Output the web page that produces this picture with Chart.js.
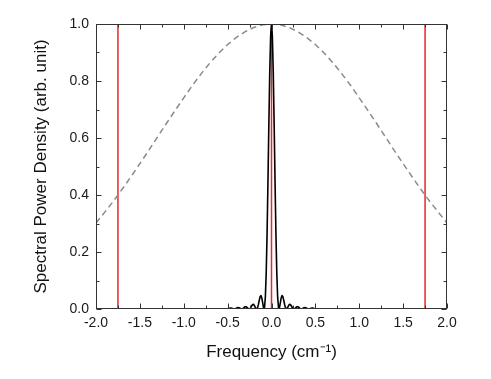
<!DOCTYPE html>
<html>
<head>
<meta charset="utf-8">
<script src="https://cdn.jsdelivr.net/npm/chart.js@4.4.1/dist/chart.umd.min.js"></script>
<style>
  html, body { margin: 0; padding: 0; background: #fff; }
  #wrap { width: 491px; height: 379px; position: relative; }
</style>
</head>
<body>
<div id="wrap"><canvas id="c"></canvas></div>
<script>
// ---- Data ----
// Black spectrum (narrow peak with side lobes), x in cm^-1
const peakX = [
  -0.50,-0.49,-0.48,-0.47,-0.46,-0.45,-0.44,-0.43,-0.42,-0.41,
  -0.40,-0.39,-0.38,-0.37,-0.36,-0.35,-0.34,-0.33,-0.32,-0.31,
  -0.30,-0.29,-0.28,-0.27,-0.26,-0.25,-0.24,-0.23,-0.22,-0.21,
  -0.20,-0.19,-0.18,-0.17,-0.16,-0.15,-0.14,-0.13,-0.12,-0.11,
  -0.10,-0.09,-0.08,-0.07,-0.06,-0.05,-0.04,-0.03,-0.02,-0.01,
  0.00,
  0.01,0.02,0.03,0.04,0.05,0.06,0.07,0.08,0.09,0.10,
  0.11,0.12,0.13,0.14,0.15,0.16,0.17,0.18,0.19,0.20,
  0.21,0.22,0.23,0.24,0.25,0.26,0.27,0.28,0.29,0.30,
  0.31,0.32,0.33,0.34,0.35,0.36,0.37,0.38,0.39,0.40,
  0.41,0.42,0.43,0.44,0.45,0.46,0.47,0.48,0.49,0.50
];
const peakY = [
  0.0004,0.0014,0.0025,0.0033,0.0032,0.0023,0.0011,0.0001,0.0001,0.0012,
  0.0029,0.0045,0.0050,0.0043,0.0026,0.0008,0.0000,0.0009,0.0032,0.0061,
  0.0081,0.0080,0.0059,0.0028,0.0004,0.0004,0.0035,0.0088,0.0140,0.0165,
  0.0147,0.0092,0.0029,0.0000,0.0037,0.0148,0.0299,0.0429,0.0470,0.0385,
  0.0203,0.0030,0.0039,0.0415,0.1294,0.2708,0.4536,0.6519,0.8306,0.9556,
  1.0000,
  0.9556,0.8306,0.6519,0.4536,0.2708,0.1294,0.0415,0.0039,0.0030,0.0203,
  0.0385,0.0470,0.0429,0.0299,0.0148,0.0037,0.0000,0.0029,0.0092,0.0147,
  0.0165,0.0140,0.0088,0.0035,0.0004,0.0004,0.0028,0.0059,0.0080,0.0081,
  0.0061,0.0032,0.0009,0.0000,0.0008,0.0026,0.0043,0.0050,0.0045,0.0029,
  0.0012,0.0001,0.0001,0.0011,0.0023,0.0032,0.0033,0.0025,0.0014,0.0004
];
// Gray dashed envelope
const envX = [
  -2.0,-1.9,-1.8,-1.7,-1.6,-1.5,-1.4,-1.3,-1.2,-1.1,
  -1.0,-0.9,-0.8,-0.7,-0.6,-0.5,-0.4,-0.3,-0.2,-0.1,
  0.0,
  0.1,0.2,0.3,0.4,0.5,0.6,0.7,0.8,0.9,1.0,
  1.1,1.2,1.3,1.4,1.5,1.6,1.7,1.8,1.9,2.0
];
const envY = [
  0.302,0.340,0.379,0.421,0.465,0.510,0.556,0.603,0.650,0.696,
  0.741,0.785,0.826,0.864,0.898,0.928,0.953,0.973,0.988,0.997,
  1.000,
  0.997,0.988,0.973,0.953,0.928,0.898,0.864,0.826,0.785,0.741,
  0.696,0.650,0.603,0.556,0.510,0.465,0.421,0.379,0.340,0.302
];
// Red vertical markers
const markerX = [-1.75, 0.0, 1.75];

// Axis ticks
const xMajorTicks = [-2.0,-1.5,-1.0,-0.5,0.0,0.5,1.0,1.5,2.0];
const xMinorTicks = [-1.75,-1.25,-0.75,-0.25,0.25,0.75,1.25,1.75];
const yMajorTicks = [0.0,0.2,0.4,0.6,0.8,1.0];
const yMinorTicks = [0.1,0.3,0.5,0.7,0.9];

// ---- Build datasets ----
const toPts = (xs, ys) => xs.map((x, i) => ({x: x, y: ys[i]}));
const datasets = [
  {
    data: toPts(envX, envY),
    showLine: true, pointRadius: 0, borderColor: '#8a8a8a',
    borderWidth: 1.5, borderDash: [6, 4], tension: 0
  },
  {
    data: toPts(peakX, peakY),
    showLine: true, pointRadius: 0, borderColor: '#000000',
    borderWidth: 1.6, tension: 0.0001, borderJoinStyle: 'round', borderCapStyle: 'round'
  }
];
markerX.forEach(mx => {
  datasets.push({
    data: [{x: mx, y: 0}, {x: mx, y: 1}],
    showLine: true, pointRadius: 0, borderColor: '#e8262b',
    borderWidth: 1.5, tension: 0
  });
});

// ---- Frame with inward ticks on all four sides ----
const framePlugin = {
  id: 'frame',
  afterDatasetsDraw(chart) {
    const {ctx, chartArea: a, scales: {x, y}} = chart;
    ctx.save();
    ctx.strokeStyle = '#333';
    ctx.lineWidth = 1;
    const L = Math.round(a.left) + 0.5, R = Math.round(a.right) - 0.5;
    const T = Math.round(a.top) + 0.5, B = Math.round(a.bottom) - 0.5;
    ctx.strokeRect(L, T, R - L, B - T);
    ctx.beginPath();
    const xt = (vals, len) => vals.forEach(v => {
      const p = Math.round(x.getPixelForValue(v)) + 0.5;
      ctx.moveTo(p, B); ctx.lineTo(p, B - len);
      ctx.moveTo(p, T); ctx.lineTo(p, T + len);
    });
    const yt = (vals, len) => vals.forEach(v => {
      const p = Math.round(y.getPixelForValue(v)) + 0.5;
      ctx.moveTo(L, p); ctx.lineTo(L + len, p);
      ctx.moveTo(R, p); ctx.lineTo(R - len, p);
    });
    xt(xMajorTicks, 5); xt(xMinorTicks, 3);
    yt(yMajorTicks, 5); yt(yMinorTicks, 3);
    ctx.stroke();
    ctx.restore();
  }
};

Chart.defaults.font.family = '"Liberation Sans", Arial, sans-serif';

new Chart(document.getElementById('c'), {
  type: 'scatter',
  data: { datasets: datasets },
  options: {
    responsive: true,
    maintainAspectRatio: false,
    animation: false,
    layout: { padding: { top: 24, right: 44, bottom: 0, left: 0 } },
    plugins: { legend: { display: false }, tooltip: { enabled: false } },
    scales: {
      x: {
        type: 'linear', min: -2, max: 2,
        afterBuildTicks: s => { s.ticks = xMajorTicks.map(v => ({value: v})); },
        afterFit: s => { s.height = 70; },
        grid: { display: false, drawTicks: false },
        border: { display: false },
        ticks: {
          color: '#1a1a1a', font: { size: 14 }, padding: 6,
          maxRotation: 0, autoSkip: false,
          callback: v => Number(v).toFixed(1)
        },
        title: {
          display: true, text: 'Frequency (cm\u207B\u00B9)',
          color: '#111', font: { size: 17 }, padding: { top: 0, bottom: 16 }
        }
      },
      y: {
        type: 'linear', min: 0, max: 1,
        afterBuildTicks: s => { s.ticks = yMajorTicks.map(v => ({value: v})); },
        afterFit: s => { s.width = 96; },
        grid: { display: false, drawTicks: false },
        border: { display: false },
        ticks: {
          color: '#1a1a1a', font: { size: 14 }, padding: 7,
          autoSkip: false,
          callback: v => Number(v).toFixed(1)
        },
        title: {
          display: true, text: 'Spectral Power Density (arb. unit)',
          color: '#111', font: { size: 17 }, padding: { top: 31, bottom: 0 }
        }
      }
    }
  },
  plugins: [framePlugin]
});
</script>
</body>
</html>
